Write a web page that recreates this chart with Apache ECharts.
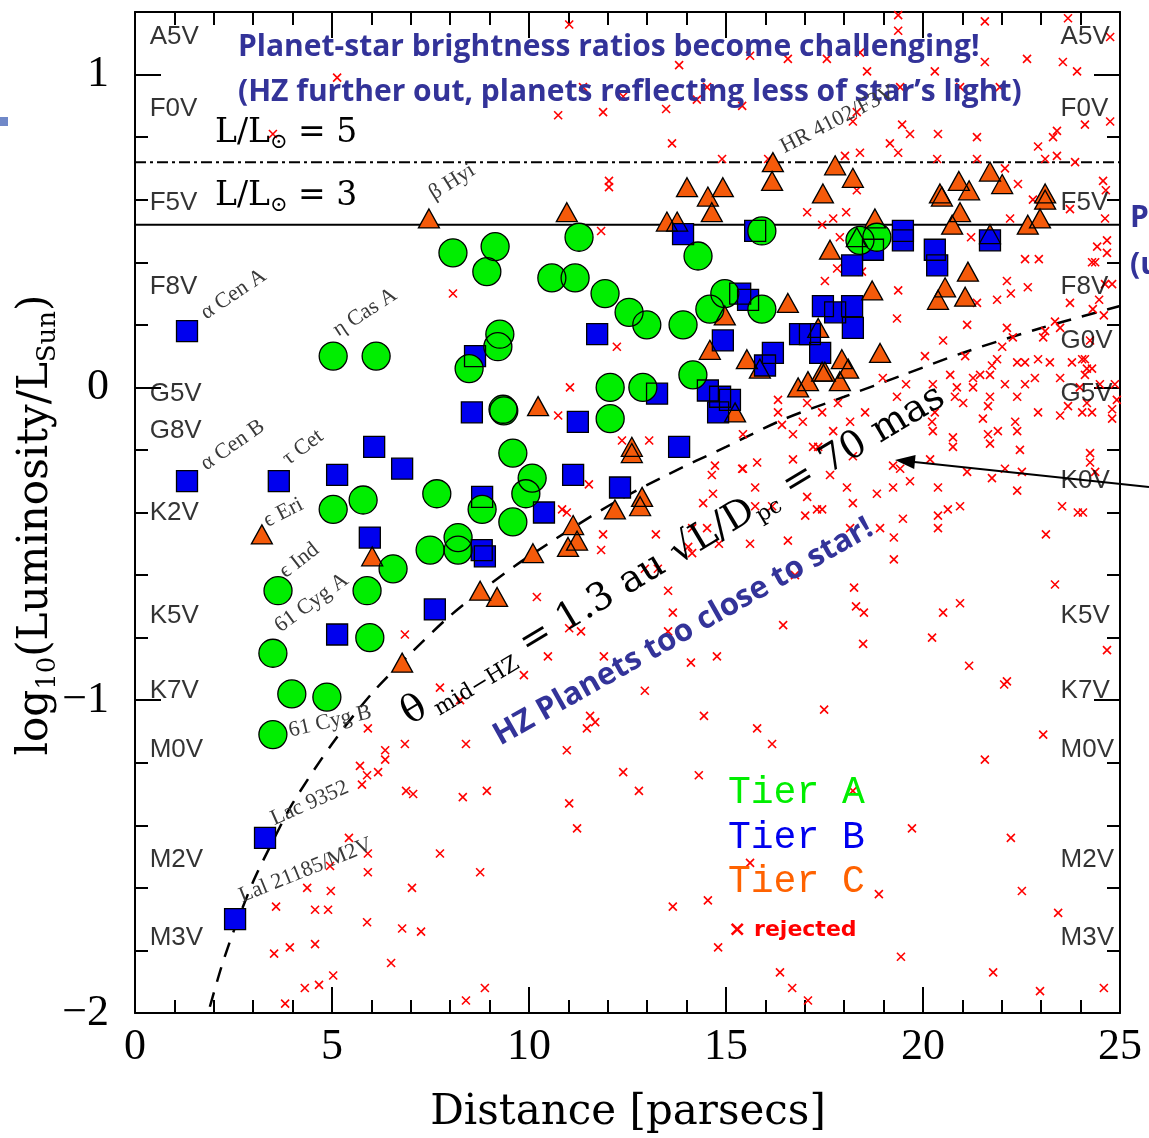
<!DOCTYPE html>
<html><head><meta charset="utf-8">
<script src="https://cdn.jsdelivr.net/npm/echarts@6/dist/echarts.min.js"></script>
<style>html,body{margin:0;padding:0;background:#fff}#c{width:1149px;height:1138px}</style>
</head><body><div id="c"></div>
<script>
// ---------------- DATA ----------------
// distance [pc], log10(L/Lsun)
const tierA = [[8.07,0.43],[9.14,0.45],[8.93,0.37],[11.27,0.48],[10.58,0.35],[11.17,0.35],[11.93,0.30],[12.54,0.24],[12.99,0.20],[13.91,0.20],[14.59,0.25],[14.97,0.30],[15.91,0.25],[14.29,0.42],[15.91,0.50],[18.40,0.47],[18.83,0.48],[5.03,0.10],[6.12,0.10],[9.26,0.17],[9.21,0.13],[8.48,0.06],[12.06,0.00],[12.89,0.00],[14.16,0.04],[9.34,-0.07],[9.36,-0.075],[12.06,-0.10],[9.59,-0.21],[10.08,-0.29],[9.92,-0.34],[7.66,-0.34],[8.81,-0.39],[9.59,-0.43],[5.03,-0.39],[5.79,-0.36],[3.63,-0.65],[5.89,-0.65],[6.55,-0.58],[7.49,-0.52],[8.20,-0.48],[8.20,-0.52],[3.50,-0.85],[5.96,-0.80],[3.98,-0.98],[4.87,-0.99],[3.50,-1.11]];
const tierB = [[1.32,0.18],[1.32,-0.30],[3.65,-0.30],[5.13,-0.28],[6.07,-0.19],[6.78,-0.26],[8.63,0.10],[8.55,-0.08],[11.73,0.17],[11.24,-0.11],[11.12,-0.28],[8.81,-0.35],[10.38,-0.40],[12.31,-0.32],[5.96,-0.48],[8.80,-0.52],[8.88,-0.54],[7.61,-0.71],[5.13,-0.79],[3.30,-1.44],[2.54,-1.70],[13.81,-0.19],[13.25,-0.02],[14.54,-0.01],[14.85,-0.03],[15.10,-0.04],[14.80,-0.08],[14.92,0.15],[15.36,0.30],[15.56,0.28],[15.99,0.07],[16.19,0.11],[16.88,0.17],[17.13,0.17],[17.46,0.26],[17.77,0.24],[18.20,0.26],[18.22,0.19],[17.39,0.11],[18.20,0.39],[13.91,0.49],[15.74,0.50],[19.49,0.50],[19.49,0.47],[20.30,0.44],[20.36,0.39],[21.70,0.47],[18.73,0.44]];
const tierC = [[7.46,0.54],[10.96,0.56],[16.19,0.72],[16.17,0.66],[17.77,0.71],[18.22,0.67],[17.46,0.62],[14.01,0.64],[14.54,0.61],[14.92,0.64],[14.64,0.56],[13.50,0.53],[13.76,0.53],[18.78,0.54],[20.43,0.62],[20.48,0.61],[20.91,0.66],[21.17,0.63],[21.70,0.69],[22.01,0.65],[20.94,0.56],[20.74,0.52],[22.66,0.52],[22.97,0.54],[23.10,0.62],[23.10,0.60],[17.64,0.44],[21.14,0.37],[20.56,0.32],[20.38,0.28],[21.07,0.29],[18.71,0.31],[16.57,0.27],[14.97,0.23],[17.34,0.19],[14.59,0.12],[15.53,0.09],[15.86,0.06],[18.91,0.11],[17.94,0.09],[18.10,0.06],[17.44,0.05],[17.51,0.05],[17.08,0.02],[17.89,0.02],[16.83,0.00],[15.23,-0.08],[10.23,-0.06],[12.61,-0.19],[12.61,-0.21],[12.87,-0.35],[12.82,-0.38],[12.18,-0.39],[11.12,-0.44],[11.22,-0.49],[10.99,-0.51],[10.10,-0.53],[8.76,-0.65],[9.19,-0.67],[6.02,-0.54],[3.22,-0.47],[6.78,-0.88],[18.32,0.48],[21.70,0.49]];
const rejected = [[11.02,1.16],[5.13,0.99],[11.37,0.96],[12.39,0.93],[10.74,0.87],[11.88,0.88],[3.50,0.81],[12.03,0.66],[12.03,0.64],[11.83,0.50],[19.37,1.19],[19.37,1.14],[23.68,1.18],[21.57,1.17],[24.75,1.12],[13.81,1.03],[15.61,1.06],[16.57,1.05],[17.56,1.05],[18.40,1.07],[18.58,1.01],[20.30,1.01],[22.64,1.05],[23.55,1.04],[23.91,1.01],[21.57,1.04],[14.52,0.96],[14.26,0.92],[13.48,0.89],[15.41,0.90],[19.42,0.96],[20.94,0.96],[21.95,0.96],[18.32,0.88],[18.22,0.85],[19.47,0.84],[19.67,0.81],[20.38,0.81],[21.37,0.80],[24.11,0.84],[24.75,0.85],[23.40,0.82],[23.30,0.80],[22.92,0.77],[13.63,0.78],[18.02,0.74],[18.40,0.75],[19.16,0.78],[19.37,0.75],[14.90,0.73],[16.07,0.73],[20.36,0.73],[21.37,0.73],[23.10,0.73],[23.40,0.74],[23.86,0.72],[22.08,0.70],[22.41,0.65],[24.57,0.66],[24.64,0.63],[18.32,0.63],[22.79,0.60],[23.73,0.57],[24.62,0.54],[17.06,0.56],[17.44,0.52],[17.72,0.54],[18.05,0.56],[22.21,0.54],[17.89,0.48],[21.22,0.48],[24.42,0.45],[24.67,0.47],[24.67,0.43],[22.59,0.41],[22.94,0.41],[24.37,0.40],[17.82,0.38],[18.45,0.37],[17.51,0.34],[19.37,0.31],[22.13,0.34],[22.23,0.30],[22.66,0.32],[24.62,0.33],[21.88,0.28],[21.37,0.27],[23.73,0.27],[24.31,0.25],[24.47,0.28],[19.34,0.22],[21.12,0.20],[22.13,0.19],[23.35,0.21],[23.10,0.18],[23.48,0.19],[23.05,0.16],[22.28,0.16],[22.01,0.13],[20.51,0.15],[21.07,0.10],[20.05,0.10],[21.88,0.09],[21.75,0.07],[22.39,0.08],[22.59,0.08],[22.92,0.09],[23.22,0.08],[23.78,0.08],[24.04,0.09],[24.16,0.06],[24.11,0.04],[21.45,0.04],[21.70,0.04],[20.69,0.04],[21.27,0.03],[22.84,0.03],[22.59,0.01],[22.08,0.01],[23.48,0.03],[24.49,0.01],[24.87,0.01],[23.98,0.00],[20.86,0.00],[21.27,0.00],[20.25,0.01],[19.57,0.01],[18.98,0.03],[19.34,-0.03],[22.39,-0.03],[21.70,-0.03],[21.65,-0.06],[21.02,-0.05],[20.81,-0.03],[22.92,-0.08],[23.68,-0.06],[24.04,-0.08],[24.29,-0.08],[24.80,-0.07],[24.80,-0.10],[23.48,-0.09],[20.30,-0.08],[20.23,-0.11],[21.52,-0.10],[22.34,-0.11],[21.90,-0.14],[22.39,-0.14],[21.65,-0.15],[21.70,-0.18],[20.76,-0.16],[20.25,-0.14],[22.46,-0.20],[20.76,-0.19],[24.24,-0.21],[24.24,-0.24],[20.18,-0.23],[19.24,-0.25],[19.42,-0.26],[21.12,-0.27],[22.08,-0.26],[21.75,-0.29],[22.51,-0.27],[23.53,-0.38],[22.39,-0.33],[23.93,-0.40],[20.38,-0.32],[20.63,-0.39],[20.94,-0.38],[20.38,-0.41],[20.38,-0.45],[23.12,-0.47],[19.67,-0.30],[19.24,-0.32],[19.49,-0.42],[18.83,-0.34],[18.07,-0.32],[18.22,-0.37],[17.44,-0.39],[17.31,-0.39],[17.01,-0.41],[16.17,-0.38],[15.74,-0.38],[15.74,-0.32],[17.06,-0.35],[15.41,-0.26],[15.79,-0.24],[16.70,-0.23],[17.34,-0.19],[17.21,-0.19],[17.64,-0.28],[18.22,-0.22],[17.72,-0.14],[18.15,-0.11],[18.53,-0.08],[17.84,-0.05],[16.70,-0.15],[16.95,-0.11],[17.44,-0.08],[16.32,-0.04],[16.32,-0.08],[16.42,-0.12],[17.06,-0.05],[24.24,0.15],[24.11,0.09],[24.29,0.06],[24.92,-0.04],[24.16,-0.05],[24.37,-0.27],[24.06,-0.40],[24.80,0.33],[24.59,0.23],[24.29,0.40],[8.07,0.30],[12.23,0.13],[11.04,0.00],[10.74,-0.09],[12.36,-0.17],[13.05,-0.17],[11.52,-0.31],[10.84,-0.39],[10.96,-0.40],[11.88,-0.47],[11.83,-0.52],[15.43,-0.15],[15.43,-0.26],[14.72,-0.25],[14.64,-0.28],[14.67,-0.34],[14.42,-0.37],[14.14,-0.45],[14.52,-0.45],[14.04,-0.51],[14.14,-0.53],[14.82,-0.50],[15.61,-0.50],[16.57,-0.49],[16.75,-0.60],[18.15,-0.45],[18.91,-0.45],[19.26,-0.48],[13.22,-0.47],[12.94,-0.58],[13.27,-0.58],[13.53,-0.65],[13.65,-0.72],[13.53,-0.78],[16.45,-0.76],[18.25,-0.64],[18.30,-0.70],[18.50,-0.72],[19.26,-0.55],[20.94,-0.69],[20.51,-0.72],[23.35,-0.63],[18.48,-0.82],[20.23,-0.80],[14.11,-0.88],[14.77,-0.86],[12.94,-0.97],[21.17,-0.89],[22.06,-0.95],[22.13,-0.94],[24.67,-0.84],[14.44,-1.05],[15.79,-1.09],[16.17,-1.14],[17.49,-1.03],[23.05,-1.11],[21.57,-1.19],[12.39,-1.23],[14.31,-1.24],[10.20,-0.67],[11.02,-0.77],[11.32,-0.78],[10.48,-0.86],[11.90,-0.86],[9.87,-0.92],[7.74,-0.96],[8.25,-1.00],[6.85,-0.79],[5.91,-1.09],[6.85,-1.14],[6.35,-1.16],[6.35,-1.19],[5.71,-1.21],[5.89,-1.24],[6.17,-1.23],[8.40,-1.14],[10.96,-1.16],[11.55,-1.05],[11.68,-1.07],[11.47,-1.09],[5.76,-1.27],[6.88,-1.29],[7.06,-1.30],[8.32,-1.31],[8.93,-1.29],[11.02,-1.33],[11.22,-1.41],[5.43,-1.44],[5.91,-1.49],[4.95,-1.53],[5.91,-1.55],[7.74,-1.49],[8.76,-1.55],[4.37,-1.60],[4.97,-1.61],[7.03,-1.60],[3.58,-1.66],[4.57,-1.67],[4.90,-1.67],[5.89,-1.71],[6.78,-1.73],[7.26,-1.74],[4.57,-1.78],[3.53,-1.81],[3.93,-1.79],[6.50,-1.84],[5.03,-1.88],[4.31,-1.92],[4.67,-1.91],[3.81,-1.97],[8.88,-1.92],[8.40,-1.96],[12.79,-1.29],[18.22,-1.29],[19.72,-1.41],[22.23,-1.44],[15.61,-1.52],[13.65,-1.66],[14.54,-1.64],[18.88,-1.62],[22.51,-1.61],[23.43,-1.68],[14.80,-1.79],[19.44,-1.82],[16.37,-1.87],[16.68,-1.92],[17.08,-1.96],[21.78,-1.87],[22.97,-1.93],[24.59,-1.92]];
// theta_midHZ = 70 mas curve
const curveD    = [1.9, 2.2, 2.5, 3.0, 3.5, 4.0, 5.0, 6.0, 7.0, 8.0, 9.0, 10.0, 12.0, 13.5, 15.0, 16.5, 18.0, 19.5, 21.0, 23.0, 25.0];
const curveLogL = [-1.98,-1.85,-1.74,-1.58,-1.45,-1.33,-1.14,-0.98,-0.85,-0.73,-0.63,-0.54,-0.38,-0.28,-0.19,-0.10,-0.03,0.04,0.11,0.19,0.26];
// horizontal reference lines (L/Lsun = 5 dash-dot, L/Lsun = 3 solid)
const lumLine5 = 0.72;
const lumLine3 = 0.52;
// spectral-type labels
const specLeftNames  = ['A5V','F0V','F5V','F8V','G5V','G8V','K2V','K5V','K7V','M0V','M2V','M3V'];
const specLeftY      = [1.12,0.89,0.59,0.32,-0.02,-0.14,-0.40,-0.73,-0.97,-1.16,-1.51,-1.76];
const specRightNames = ['A5V','F0V','F5V','F8V','G0V','G5V','K0V','K5V','K7V','M0V','M2V','M3V'];
const specRightY     = [1.12,0.89,0.59,0.32,0.15,-0.02,-0.30,-0.73,-0.97,-1.16,-1.51,-1.76];
const xRange = [0, 25];
const yRange = [-2, 1.2];

// ---------------- CHART ----------------
const chart = echarts.init(document.getElementById('c'));
const BLK = {color:'#000', width:2};
const SERIF_NUM = '"Liberation Serif", "Times New Roman", serif';

function xAx(pos, interval, len, labels, line) {
  return {type:'value', min:xRange[0], max:xRange[1], interval, position:pos,
    axisLine:{show:line, onZero:false, lineStyle:BLK},
    axisTick:{show:true, inside:true, length:len, lineStyle:BLK},
    axisLabel: labels ? {show:true, margin:12, fontFamily:SERIF_NUM, fontSize:44, color:'#000'} : {show:false},
    splitLine:{show:false}};
}
function yAx(pos, interval, len, labels, line) {
  return {type:'value', min:yRange[0], max:yRange[1], interval, position:pos,
    axisLine:{show:line, onZero:false, lineStyle:BLK},
    axisTick:{show:true, inside:true, length:len, lineStyle:BLK},
    axisLabel: labels ? {show:true, margin:26, fontFamily:SERIF_NUM, fontSize:44, color:'#000',
      formatter: v => Math.abs(v - Math.round(v)) < 1e-6 ? String(Math.round(v)).replace('-', '\u2212') : ''} : {show:false},
    splitLine:{show:false}};
}
const pairs = (xs, ys) => xs.map((x, i) => [x, ys[i]]);

const colA = '#00ee00', colB = '#0000ee', colC = '#f55a0a';
function fill(data, symbol, size, color) {
  return {type:'scatter', data, symbol, symbolSize:size, silent:true, z:3,
    itemStyle:{color, borderWidth:0, opacity:1}};
}
function outline(data, symbol, size) {
  return {type:'scatter', data, symbol, symbolSize:size, silent:true, z:4,
    itemStyle:{color:'rgba(0,0,0,0)', borderColor:'#000', borderWidth:1.3, opacity:1}};
}
function specSeries(names, ys, x) {
  return {type:'scatter', data: names.map((n, i) => ({name:n, value:[x, ys[i]]})),
    symbol:'circle', symbolSize:1, silent:true, z:5, itemStyle:{color:'rgba(0,0,0,0)'},
    label:{show:true, position:'right', distance:0, formatter:'{b}',
      fontFamily:'"Liberation Sans", Arial, sans-serif', fontSize:26, color:'#000'}};
}

const series = [
  {type:'line', data:[[xRange[0], lumLine5],[xRange[1], lumLine5]], symbol:'none', silent:true, z:1,
    lineStyle:{color:'#000', width:2, type:[11,4,3,4]}},
  {type:'line', data:[[xRange[0], lumLine3],[xRange[1], lumLine3]], symbol:'none', silent:true, z:1,
    lineStyle:{color:'#000', width:2}},
  {type:'line', data:pairs(curveD, curveLogL), smooth:0.3, symbol:'none', silent:true, z:1,
    lineStyle:{color:'#000', width:2.5, type:[15,11]}},
  {type:'scatter', data:rejected, symbol:'path://M0 0L10 10M10 0L0 10', symbolSize:8, silent:true, z:2,
    itemStyle:{color:'none', borderColor:'#ff0000', borderWidth:1.6, opacity:1}},
  fill(tierC, 'triangle', [21,19], colC),
  fill(tierB, 'rect', 21, colB),
  fill(tierA, 'circle', 28, colA),
  outline(tierC, 'triangle', [21,19]),
  outline(tierB, 'rect', 21),
  outline(tierA, 'circle', 28),
  specSeries(specLeftNames, specLeftY, 0.36),
  specSeries(specRightNames, specRightY, 23.48)
];

// ---------------- annotations ----------------
const deg = d => d * Math.PI / 180;
const BLUE = '#333399';
const g = [];
g.push({type:'rect', shape:{x:0, y:117, width:8, height:9}, style:{fill:'#7088c8'}});
function T(x, y, text, font, fill, rot, align, valign, rich) {
  const st = {text, font, fill, align:align || 'left', verticalAlign:valign || 'middle'};
  if (rich) st.rich = rich;
  return {type:'text', x, y, rotation: rot ? deg(rot) : 0, silent:true, z:100, style:st};
}
// rich styles: subscripts pushed down with top padding (text middle shifts by pad/2)
function richSub(main, sub, pad) {
  return {
    a:{fontFamily:'DejaVu Serif', fontSize:main, lineHeight:main, fill:'#000'},
    s:{fontFamily:'DejaVu Serif', fontSize:sub, lineHeight:main, padding:[pad,0,0,0], fill:'#000'}
  };
}
g.push(T(238, 47, 'Planet-star brightness ratios become challenging!', 'bold 30px "Open Sans"', BLUE));
g.push(T(238, 92, '(HZ further out, planets reflecting less of star\u2019s light)', 'bold 30px "Open Sans"', BLUE));
g.push(T(1130, 218, 'P', 'bold 30px "Open Sans"', BLUE));
g.push(T(1130, 265, '(u', 'bold 30px "Open Sans"', BLUE));

g.push(T(215, 133, '{a|L/L}{s|\u2299}{a| = 5}', '33px "DejaVu Serif"', '#000', 0, 'left', 'middle', richSub(33, 21, 20)));
g.push(T(215, 196, '{a|L/L}{s|\u2299}{a| = 3}', '33px "DejaVu Serif"', '#000', 0, 'left', 'middle', richSub(33, 21, 20)));

const starLabels = [
  ['\u03b1 Cen A', 203, 315, 34], ['\u03b1 Cen B', 203, 466, 35], ['\u03b7 Cas A', 335, 332, 33],
  ['\u03c4 Cet', 285, 461, 37], ['\u03f5 Eri', 265, 522, 27], ['\u03f5 Ind', 282, 574, 38],
  ['61 Cyg A', 277, 628, 36], ['61 Cyg B', 289, 731, 13], ['\u03b2 Hyi', 431, 195, 32],
  ['HR 4102/F3V', 782, 148, 27], ['Lac 9352', 272, 820, 24], ['Lal 21185/M2V', 240, 897, 22]
];
starLabels.forEach(s => g.push(T(s[1], s[2], s[0], '22px "Liberation Serif"', '#3a3a3a', s[3])));

g.push(T(405, 717, '{a|\u03b8}{s| mid\u2212HZ}{a| = 1.3 au \u221aL/D}{s|pc}{a| = 70 mas}', '38px "DejaVu Serif"', '#000', 31, 'left', 'middle', richSub(38, 22, 22)));
g.push(T(496, 738, 'HZ Planets too close to star!', 'bold 31px "Open Sans"', BLUE, 29.5));

// arrow
g.push({type:'line', shape:{x1:1149, y1:487, x2:905, y2:461}, style:{stroke:'#000', lineWidth:2}, z:100, silent:true});
g.push({type:'polygon', shape:{points:[[895,460],[915.6,455.1],[914.2,469.1]]}, style:{fill:'#000'}, z:100, silent:true});

// legend
g.push(T(728, 793, 'Tier A', '38px "Liberation Mono"', '#00ee00'));
g.push(T(728, 838, 'Tier B', '38px "Liberation Mono"', '#0000ee'));
g.push(T(728, 882, 'Tier C', '38px "Liberation Mono"', '#ff6200'));
g.push(T(728, 930, '\u00d7 rejected', 'bold 22px "DejaVu Sans"', '#ff0000'));

// axis titles
g.push(T(628, 1113, 'Distance [parsecs]', '42px "DejaVu Serif"', '#000', 0, 'center', 'middle'));
g.push(T(36, 525, '{a|log}{s|10}{a|(Luminosity/L}{s|Sun}{a|)}', '42px "DejaVu Serif"', '#000', 90, 'center', 'middle', richSub(42, 26, 24)));

chart.setOption({
  animation:false,
  backgroundColor:'#fff',
  grid:{left:135, right:29, top:12, bottom:125, containLabel:false, outerBoundsMode:'none'},
  xAxis:[xAx('bottom',5,26,true,true), xAx('bottom',1,13,false,false), xAx('top',5,26,false,true), xAx('top',1,13,false,false)],
  yAxis:[yAx('left',1,26,true,true), yAx('left',0.2,13,false,false), yAx('right',1,26,false,true), yAx('right',0.2,13,false,false)],
  series,
  graphic:{elements:g}
});
</script></body></html>
